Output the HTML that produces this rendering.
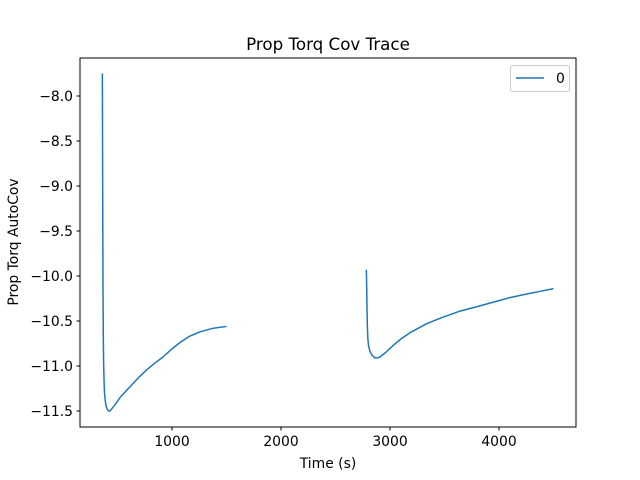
<!DOCTYPE html>
<html><head><meta charset="utf-8"><style>body{margin:0;background:#fff}svg{display:block;font-family:"DejaVu Sans","Liberation Sans",sans-serif}</style></head>
<body>
<svg id="chart" width="640" height="480" viewBox="0 0 640 480">
<rect width="640" height="480" fill="#fff"/>
<text x="328" y="50" font-size="16.7" text-anchor="middle">Prop Torq Cov Trace</text>
<text x="328" y="468" font-size="13.9" text-anchor="middle">Time (s)</text>
<text transform="translate(18,242) rotate(-90)" font-size="13.9" text-anchor="middle">Prop Torq AutoCov</text>
<g id="ticks"></g>
<g id="series"></g>
<rect x="80" y="58" width="496" height="369" fill="none" stroke="#000" stroke-width="1"/>
<g>
<rect x="510.5" y="65.5" width="59" height="26" rx="2" fill="#fff" stroke="#ccc"/>
<line x1="516" y1="78" x2="544" y2="78" stroke="#1f77b4" stroke-width="1.5"/>
<text x="556" y="83" font-size="13.9">0</text>
</g>
</svg>
<script>
const xTicks=[1000,2000,3000,4000];
const yTicks=[-8.0,-8.5,-9.0,-9.5,-10.0,-10.5,-11.0,-11.5];
const seg1T=[361,362,363,365,367,370,373,377,381,387,394,405,418,431,445,477,530,615,700,771,840,917,1000,1073,1160,1257,1380,1500];
const seg1V=[-7.75,-8.10,-8.60,-9.40,-10.19,-10.70,-10.98,-11.18,-11.30,-11.38,-11.44,-11.48,-11.50,-11.50,-11.48,-11.43,-11.34,-11.23,-11.12,-11.04,-10.97,-10.90,-10.81,-10.74,-10.67,-10.62,-10.58,-10.56];
const seg2T=[2783,2786,2789,2792,2797,2804,2817,2835,2862,2885,2908,2960,3030,3100,3183,3260,3336,3480,3642,3800,3948,4100,4254,4380,4500];
const seg2V=[-9.93,-10.10,-10.35,-10.55,-10.70,-10.78,-10.84,-10.88,-10.91,-10.91,-10.90,-10.85,-10.77,-10.70,-10.63,-10.58,-10.53,-10.46,-10.39,-10.34,-10.29,-10.24,-10.20,-10.17,-10.14];
const NS="http://www.w3.org/2000/svg";
function xs(t){return 172+(t-1000)*0.109;}
function ys(v){return 96+(-8-v)*90;}
const tg=document.getElementById('ticks');
xTicks.forEach(t=>{
 const l=document.createElementNS(NS,'line');
 l.setAttribute('x1',xs(t));l.setAttribute('x2',xs(t));l.setAttribute('y1',427);l.setAttribute('y2',430.5);l.setAttribute('stroke','#000');
 
 
 tg.appendChild(l);
 const tx=document.createElementNS(NS,'text');
 tx.setAttribute('x',xs(t));tx.setAttribute('y',446);tx.setAttribute('font-size','13.9');tx.setAttribute('text-anchor','middle');
 tx.textContent=String(t);
 
 
 tg.appendChild(tx);
});
yTicks.forEach(v=>{
 const l=document.createElementNS(NS,'line');
 l.setAttribute('x1',76.5);l.setAttribute('x2',80);l.setAttribute('y1',ys(v));l.setAttribute('y2',ys(v));l.setAttribute('stroke','#000');
 
 
 tg.appendChild(l);
 const tx=document.createElementNS(NS,'text');
 tx.setAttribute('x',73);tx.setAttribute('y',ys(v)+5);tx.setAttribute('font-size','13.9');tx.setAttribute('text-anchor','end');
 tx.textContent='\u2212'+Math.abs(v).toFixed(1);
 
 
 tg.appendChild(tx);
});
const sg=document.getElementById('series');
[[seg1T,seg1V],[seg2T,seg2V]].forEach(([T,V])=>{
 const p=document.createElementNS(NS,'polyline');
 p.setAttribute('points',T.map((t,j)=>xs(t)+','+ys(V[j])).join(' '));
 p.setAttribute('fill','none');p.setAttribute('stroke','#1f77b4');p.setAttribute('stroke-width','1.5');p.setAttribute('stroke-linejoin','round');
 
 
 sg.appendChild(p);
});
</script>
</body></html>
